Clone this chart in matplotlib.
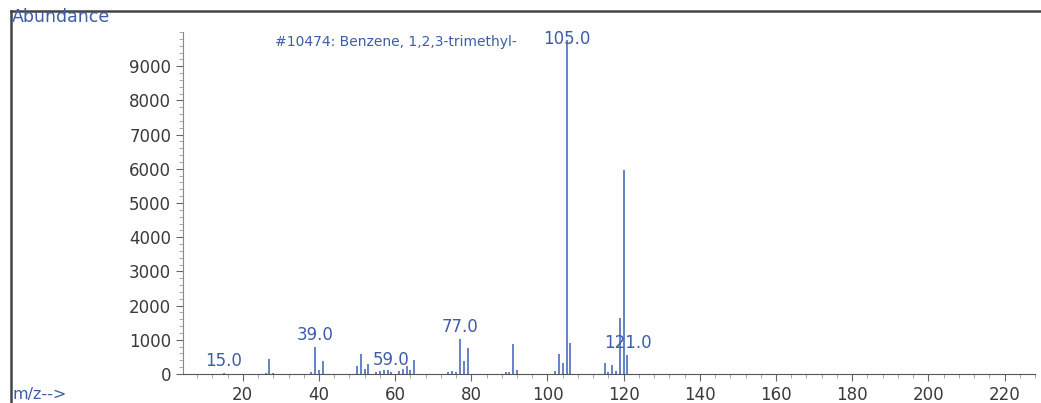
import matplotlib
matplotlib.use("Agg")
import matplotlib.pyplot as plt
from matplotlib.ticker import MultipleLocator
from matplotlib.lines import Line2D

# spectrum values (m/z, abundance)
mz = [15, 26, 27, 28, 38, 39, 40, 41, 50, 51, 52, 53, 55, 56, 57, 58, 59, 61, 62, 63,
      64, 65, 74, 75, 76, 77, 78, 79, 89, 90, 91, 92, 102, 103, 104, 105, 106,
      115, 116, 117, 118, 119, 120, 121]
abundance = [30, 40, 440, 40, 60, 790, 110, 380, 230, 590, 150, 280, 60, 80, 110, 120, 60, 80, 150, 230,
             120, 400, 50, 90, 60, 1020, 380, 760, 60, 70, 880, 120, 90, 580, 320, 9780, 920,
             310, 70, 260, 90, 1650, 5960, 550]
labeled = [15, 39, 59, 77, 105, 121]
title = "#10474: Benzene, 1,2,3-trimethyl-"

peak_col = "#4a6cc0"
text_col = "#3d5daa"
grey = "#3a3a3a"

fig = plt.figure(figsize=(10.41, 4.03), dpi=100)
ax = fig.add_axes([183/1041, 1 - 374/403, (1035 - 183)/1041, (374 - 32)/403])

ax.vlines(mz, 0, abundance, color=peak_col, linewidth=1.2)

for m in labeled:
    h = abundance[mz.index(m)]
    ax.text(m, min(h + 100, 9520), "%.1f" % m, color=text_col, fontsize=12,
            ha="center", va="bottom", family="DejaVu Sans")

ax.set_xlim(4.3, 228)
ax.set_ylim(0, 10000)
ax.xaxis.set_major_locator(MultipleLocator(20))
ax.xaxis.set_minor_locator(MultipleLocator(4))
ax.yaxis.set_major_locator(MultipleLocator(1000))
ax.yaxis.set_minor_locator(MultipleLocator(200))
ax.set_yticks(range(0, 10000, 1000))

for s in ["top", "right"]:
    ax.spines[s].set_visible(False)
ax.spines["left"].set_color("#888888")
ax.spines["bottom"].set_color("#555555")
ax.tick_params(which="major", length=5, color="#666666", labelcolor=grey, labelsize=12)
ax.tick_params(which="minor", length=3, color="#999999")
for lab in ax.get_xticklabels() + ax.get_yticklabels():
    lab.set_family("DejaVu Sans")

fig.text(12/1041, 1 - 17/403, "Abundance", color=text_col, fontsize=12.5, va="center", ha="left")
fig.text(12/1041, 1 - 394/403, "m/z-->", color=text_col, fontsize=11.5, va="center", ha="left")
fig.text(275/1041, 1 - 42/403, title, color=text_col, fontsize=10, va="center", ha="left")

# outer frame (left and top edges)
fig.add_artist(Line2D([11/1041, 11/1041], [0, 1 - 11/403], transform=fig.transFigure, color="#444444", lw=1.8))
fig.add_artist(Line2D([11/1041, 1], [1 - 11/403, 1 - 11/403], transform=fig.transFigure, color="#444444", lw=1.8))

fig.savefig("out.png", dpi=100)
